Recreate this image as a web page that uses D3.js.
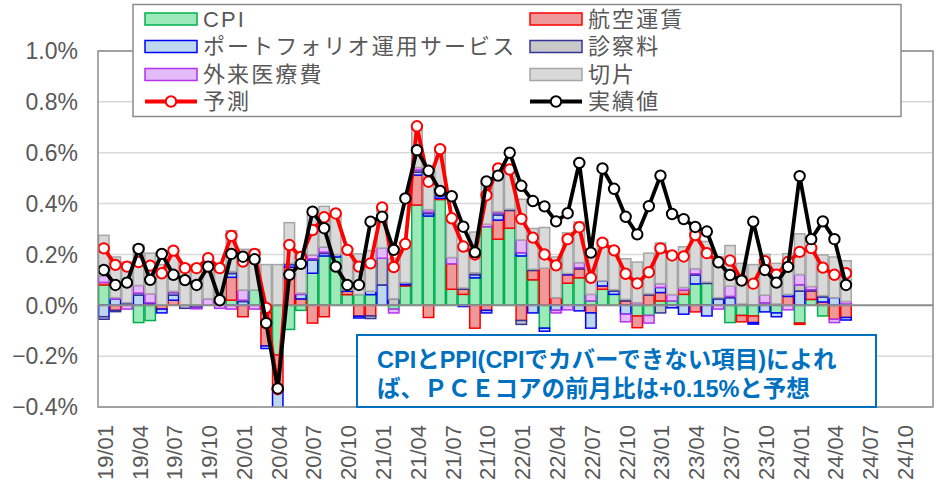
<!DOCTYPE html>
<html>
<head>
<meta charset="utf-8">
<script src="https://cdn.jsdelivr.net/npm/d3@7"></script>
<style>
  body { margin: 0; background: #fff; }
  text { font-family: "Liberation Sans", Arial, "Noto Sans CJK JP", sans-serif; }
</style>
</head>
<body>
<svg id="chart" width="940" height="485"></svg>
<script>
// months 19/01 .. 24/12 (axis), data runs 19/01 .. 24/05
const months = d3.range(72).map(i => `${19 + Math.floor(i / 12)}/${String(i % 12 + 1).padStart(2, "0")}`);
const tickLabels = ["19/01", "19/04", "19/07", "19/10", "20/01", "20/04", "20/07", "20/10",
  "21/01", "21/04", "21/07", "21/10", "22/01", "22/04", "22/07", "22/10",
  "23/01", "23/04", "23/07", "23/10", "24/01", "24/04", "24/07", "24/10"];
const yTicks = [-0.4, -0.2, 0, 0.2, 0.4, 0.6, 0.8, 1.0];

const cpi = [0.08, 0, 0, -0.068, -0.06, 0, 0, 0, 0, 0, 0, 0.02, 0, 0.06, -0.03, -0.195,
  -0.095, -0.02, 0.126, 0.194, 0.19, 0.042, 0.042, 0.042, 0, -0.015, 0.076, 0.394, 0.351, 0.416,
  0.063, 0.043, 0.108, 0.309, 0.26, 0.303, 0.194, 0.1, -0.09, 0, 0.087, 0.108, 0.017, 0.063,
  0.043, 0, -0.042, -0.04, 0.017, 0.017, 0.043, 0.084, 0.086, 0, -0.068, -0.04, -0.042, 0,
  -0.03, 0, -0.07, 0.023, -0.042, 0, 0];
const airfare = [0.01, -0.02, 0, 0, 0, -0.015, 0.02, 0, 0, 0, 0, 0.09, -0.045, 0, -0.13, -0.135,
  0.15, 0.025, -0.07, -0.045, 0, 0.013, -0.043, -0.042, 0, 0, 0.005, 0.118, -0.048, 0.005,
  0.1, 0.02, -0.09, -0.02, 0.075, 0.07, -0.06, 0.037, 0.146, 0.03, 0.033, 0.035, -0.03, 0.013,
  0, 0.017, -0.046, 0.04, 0.033, 0, 0.017, -0.026, 0, 0, 0, -0.025, -0.026, 0,
  0, 0.035, -0.005, 0.033, 0.013, -0.055, -0.048];
const portfolio = [-0.045, 0.025, 0.005, 0.04, 0.005, -0.015, 0.02, 0, -0.008, 0, 0, 0.015, 0.015, 0, -0.01, -0.16,
  0.01, 0.018, 0.052, 0.01, 0.01, 0.005, -0.007, 0.013, 0.08, 0, 0.008, 0.012, 0.01, 0.01,
  0, -0.005, 0.012, -0.01, 0.02, 0, 0.013, -0.03, -0.012, -0.02, 0.005, -0.022, -0.06, 0.02,
  0.013, -0.035, 0, 0, 0.02, -0.01, -0.035, 0.035, -0.042, 0.025, 0.03, 0.005, -0.006, -0.026,
  -0.015, 0.008, 0.056, 0, 0.02, 0.03, -0.01];
const doctorFee = [-0.01, -0.005, 0.005, 0.008, 0.005, 0, 0.01, -0.012, -0.003, 0, 0, 0.008, 0.005, 0, 0, 0,
  0.005, 0, 0.005, 0.005, 0, 0, 0, -0.01, 0.105, 0.025, 0, 0.008, 0.005, 0.01,
  0, 0.005, 0.008, 0, 0.008, 0.005, -0.015, 0.005, 0, 0, 0, 0.005, 0, 0,
  0.005, 0.006, 0, 0.005, -0.03, 0, 0, 0.005, 0.005, 0.005, 0.005, 0, 0, 0.01,
  0, 0, 0.025, 0.005, 0.005, 0, 0.005];
const outpatient = [0.025, 0.005, -0.015, 0.03, 0.035, 0, 0.005, 0, -0.003, 0.025, -0.012, -0.015, 0.04, -0.015, 0, 0,
  0, 0.005, 0.015, 0.02, 0, 0, 0, 0, 0.04, -0.015, 0, 0.01, 0.01, 0.02,
  0.025, 0, 0, 0.01, 0.005, 0, 0.05, 0, 0, -0.01, -0.018, 0.02, 0.026, 0,
  0, -0.03, 0.01, -0.03, 0.015, 0.025, 0.01, 0.02, 0, -0.015, 0.04, 0, 0, 0.03,
  0.005, -0.018, 0.04, 0.013, 0, -0.013, 0.01];
const intercept = 0.16;

const forecast = [0.224, 0.159, 0.152, 0.17, 0.156, 0.126, 0.215, 0.146, 0.146, 0.185, 0.146, 0.273, 0.172, 0.202, -0.01, -0.33,
  0.237, 0.19, 0.296, 0.346, 0.361, 0.218, 0.152, 0.165, 0.385, 0.15, 0.241, 0.704, 0.486, 0.614,
  0.342, 0.231, 0.2, 0.433, 0.538, 0.534, 0.34, 0.266, 0.2, 0.157, 0.26, 0.307, 0.108, 0.246,
  0.216, 0.124, 0.086, 0.13, 0.224, 0.196, 0.192, 0.276, 0.205, 0.17, 0.176, 0.1, 0.085, 0.173,
  0.12, 0.17, 0.21, 0.225, 0.148, 0.12, 0.126];
const actual = [0.139, 0.08, 0.089, 0.222, 0.1, 0.202, 0.12, 0.099, 0.08, 0.152, 0.02, 0.202, 0.191, 0.181, -0.07, -0.327,
  0.12, 0.163, 0.368, 0.303, 0.152, 0.08, 0.08, 0.329, 0.348, 0.218, 0.42, 0.61, 0.529, 0.45,
  0.429, 0.309, 0.208, 0.487, 0.51, 0.6, 0.47, 0.41, 0.389, 0.33, 0.362, 0.56, 0.207, 0.538,
  0.458, 0.348, 0.279, 0.39, 0.51, 0.359, 0.339, 0.308, 0.29, 0.169, 0.119, 0.097, 0.329, 0.139,
  0.089, 0.151, 0.508, 0.26, 0.33, 0.26, 0.08];

const series = [
  { key: "cpi", name: "CPI", fill: "#9DE9B9", stroke: "#00B050" },
  { key: "air", name: "航空運賃", fill: "#EE9A9A", stroke: "#FF0000" },
  { key: "port", name: "ポートフォリオ運用サービス", fill: "#BDD7EE", stroke: "#0000FF" },
  { key: "doc", name: "診察料", fill: "#C8C8C8", stroke: "#333399" },
  { key: "outp", name: "外来医療費", fill: "#E2BBF8", stroke: "#B432F0" },
  { key: "icpt", name: "切片", fill: "#D9D9D9", stroke: "#A6A6A6" }
];

const rows = cpi.map((v, i) => ({
  month: months[i], cpi: v, air: airfare[i], port: portfolio[i],
  doc: doctorFee[i], outp: outpatient[i], icpt: intercept
}));

const svg = d3.select("#chart");
const margin = { left: 98, right: 7, top: 51, bottom: 78 };
const W = 940, H = 485;

const x = d3.scaleBand().domain(months).range([margin.left, W - margin.right]).paddingInner(0.1).paddingOuter(0.05);
const y = d3.scaleLinear().domain([-0.4, 1.0]).range([H - margin.bottom, margin.top]);

svg.append("defs").append("clipPath").attr("id", "plotclip")
  .append("rect")
  .attr("x", margin.left).attr("y", margin.top)
  .attr("width", W - margin.left - margin.right).attr("height", y(-0.4) - y(1.0));

// grid
svg.append("g")
  .selectAll("line")
  .data(yTicks.filter(d => d !== 0))
  .join("line")
  .attr("x1", margin.left).attr("x2", W - margin.right)
  .attr("y1", d => y(d)).attr("y2", d => y(d))
  .attr("stroke", "#D9D9D9").attr("stroke-width", 1.5);

// stacked bars
const stack = d3.stack().keys(series.map(s => s.key)).offset(d3.stackOffsetDiverging);
const stacked = stack(rows);

const barG = svg.append("g").attr("clip-path", "url(#plotclip)");
barG.selectAll("g")
  .data(stacked)
  .join("g")
  .attr("fill", (d, i) => series[i].fill)
  .attr("stroke", (d, i) => series[i].stroke)
  .attr("stroke-width", 1.5)
  .selectAll("rect")
  .data(d => d.filter(p => Math.abs(p[1] - p[0]) > 1e-9))
  .join("rect")
  .attr("x", d => x(d.data.month))
  .attr("width", x.bandwidth())
  .attr("y", d => y(Math.max(d[0], d[1])))
  .attr("height", d => Math.abs(y(d[0]) - y(d[1])));

// zero line
svg.append("line")
  .attr("x1", margin.left).attr("x2", W - margin.right)
  .attr("y1", y(0)).attr("y2", y(0))
  .attr("stroke", "#8C8C8C").attr("stroke-width", 2);

// lines
const lineGen = d3.line()
  .x((d, i) => x(months[i]) + x.bandwidth() / 2)
  .y(d => y(d));

function drawLine(values, color) {
  const g = svg.append("g").attr("clip-path", "url(#plotclip)");
  g.append("path")
    .datum(values)
    .attr("fill", "none")
    .attr("stroke", color)
    .attr("stroke-width", 3.8)
    .attr("stroke-linejoin", "round")
    .attr("d", lineGen);
  g.selectAll("circle")
    .data(values)
    .join("circle")
    .attr("cx", (d, i) => x(months[i]) + x.bandwidth() / 2)
    .attr("cy", d => y(d))
    .attr("r", 5.2)
    .attr("fill", "#fff")
    .attr("stroke", color)
    .attr("stroke-width", 2);
}
drawLine(forecast, "#FF0000");
drawLine(actual, "#000000");

// frame
svg.append("rect")
  .attr("x", margin.left).attr("y", margin.top)
  .attr("width", W - margin.left - margin.right).attr("height", y(-0.4) - y(1.0))
  .attr("fill", "none").attr("stroke", "#8C8C8C").attr("stroke-width", 1.5);

// y axis labels
svg.append("g")
  .selectAll("text")
  .data(yTicks)
  .join("text")
  .attr("x", 78)
  .attr("y", d => y(d))
  .attr("dy", "0.36em")
  .attr("text-anchor", "end")
  .attr("font-size", 23)
  .attr("fill", "#595959")
  .text(d => d3.format(".1f")(d) + "%");

// x axis labels
svg.append("g")
  .selectAll("text")
  .data(tickLabels)
  .join("text")
  .attr("transform", d => `translate(${x(d) + x.bandwidth() / 2 + 1},425) rotate(-90)`)
  .attr("dy", "0.36em")
  .attr("text-anchor", "end")
  .attr("font-size", 22)
  .attr("fill", "#595959")
  .text(d => d);

// legend
const legend = svg.append("g");
legend.append("rect")
  .attr("x", 133).attr("y", 4.5).attr("width", 768).attr("height", 112)
  .attr("fill", "#fff").attr("stroke", "#8C8C8C").attr("stroke-width", 1.5);

const legendItems = [
  ...series.map(s => ({ type: "bar", ...s })),
  { type: "line", name: "予測", stroke: "#FF0000" },
  { type: "line", name: "実績値", stroke: "#000000" }
];
const rowY = [19, 46.5, 74.5, 101.5];
const colX = [145, 530];

legendItems.forEach((d, i) => {
  const cx = colX[i % 2], cy = rowY[Math.floor(i / 2)];
  const g = legend.append("g");
  if (d.type === "bar") {
    g.append("rect")
      .attr("x", cx).attr("y", cy - 6).attr("width", 52).attr("height", 12)
      .attr("fill", d.fill).attr("stroke", d.stroke).attr("stroke-width", 1.5);
  } else {
    g.append("line")
      .attr("x1", cx).attr("x2", cx + 52).attr("y1", cy).attr("y2", cy)
      .attr("stroke", d.stroke).attr("stroke-width", 3.8);
    g.append("circle")
      .attr("cx", cx + 26).attr("cy", cy).attr("r", 5.2)
      .attr("fill", "#fff").attr("stroke", d.stroke).attr("stroke-width", 2);
  }
  g.append("text")
    .attr("x", cx + 58).attr("y", cy)
    .attr("dy", "0.36em")
    .attr("font-size", 22)
    .attr("letter-spacing", 2.1)
    .attr("fill", "#595959")
    .text(d.name);
});

// annotation
const note = svg.append("g");
note.append("rect")
  .attr("x", 357).attr("y", 335).attr("width", 519).attr("height", 72)
  .attr("fill", "#fff").attr("stroke", "#0070C0").attr("stroke-width", 2);
note.selectAll("text")
  .data(["CPIとPPI(CPIでカバーできない項目)によれ", "ば、ＰＣＥコアの前月比は+0.15%と予想"])
  .join("text")
  .attr("x", 377)
  .attr("y", (d, i) => 368 + i * 29)
  .attr("font-size", 23.5)
  .attr("font-weight", "bold")
  .attr("fill", "#0070C0")
  .text(d => d);
</script>
</body>
</html>
